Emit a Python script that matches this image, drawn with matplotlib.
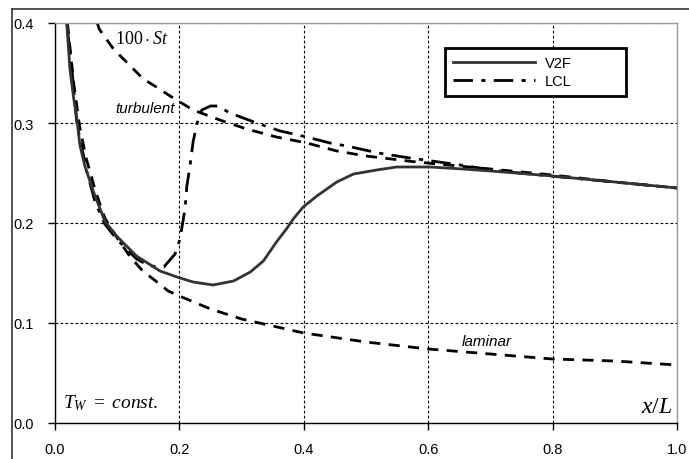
import matplotlib
matplotlib.use("Agg")
import matplotlib.pyplot as plt
from matplotlib.lines import Line2D

plt.rcParams['font.family'] = 'Liberation Sans'
plt.rcParams['mathtext.fontset'] = 'custom'
plt.rcParams['mathtext.rm'] = 'Liberation Serif'
plt.rcParams['mathtext.it'] = 'Liberation Serif:italic'

# V2F Stanton number (x100)
x_v2f = [0.019, 0.024, 0.030, 0.035, 0.040, 0.048, 0.062, 0.080, 0.099, 0.131, 0.169,
         0.196, 0.222, 0.254, 0.287, 0.314, 0.335, 0.356, 0.372, 0.383, 0.399, 0.421,
         0.453, 0.480, 0.517, 0.549, 0.603, 0.656, 0.700, 0.800, 0.900, 1.000]
y_v2f = [0.399, 0.354, 0.325, 0.305, 0.278, 0.257, 0.231, 0.202, 0.187, 0.167, 0.152,
         0.146, 0.141, 0.138, 0.142, 0.151, 0.162, 0.181, 0.194, 0.204, 0.216, 0.227,
         0.241, 0.249, 0.253, 0.256, 0.256, 0.254, 0.252, 0.247, 0.241, 0.235]

# LCL
x_lcl = [0.019, 0.027, 0.035, 0.051, 0.064, 0.080, 0.099, 0.131, 0.153, 0.175, 0.193,
         0.201, 0.209, 0.212, 0.217, 0.222, 0.228, 0.236, 0.250, 0.262, 0.281, 0.320,
         0.362, 0.405, 0.442, 0.469, 0.520, 0.560, 0.640, 0.715, 0.796, 0.900, 1.000]
y_lcl = [0.400, 0.355, 0.300, 0.252, 0.222, 0.199, 0.184, 0.164, 0.157, 0.156, 0.169,
         0.184, 0.214, 0.237, 0.257, 0.281, 0.299, 0.313, 0.317, 0.317, 0.310, 0.301,
         0.292, 0.286, 0.280, 0.277, 0.270, 0.266, 0.259, 0.252, 0.247, 0.241, 0.235]

# correlations
x_turb = [0.068, 0.071, 0.094, 0.142, 0.163, 0.185, 0.222, 0.265, 0.308, 0.356, 0.405,
          0.453, 0.500, 0.581, 0.700, 0.800, 0.900, 1.000]
y_turb = [0.400, 0.394, 0.374, 0.344, 0.336, 0.327, 0.313, 0.303, 0.294, 0.286, 0.280,
          0.272, 0.267, 0.261, 0.254, 0.248, 0.241, 0.235]

x_lam = [0.020, 0.030, 0.040, 0.050, 0.065, 0.080, 0.100, 0.120, 0.141, 0.164, 0.182,
         0.200, 0.250, 0.300, 0.350, 0.400, 0.500, 0.600, 0.700, 0.800, 0.900, 1.000]
y_lam = [0.400, 0.340, 0.295, 0.265, 0.232, 0.205, 0.185, 0.167, 0.152, 0.141, 0.132,
         0.127, 0.114, 0.104, 0.097, 0.090, 0.081, 0.074, 0.069, 0.064, 0.062, 0.058]

xticks = [0.0, 0.2, 0.4, 0.6, 0.8, 1.0]
yticks = [0.0, 0.1, 0.2, 0.3, 0.4]

fig = plt.figure(figsize=(6.89, 4.60), dpi=100)
ax = fig.add_axes([55/689, 36/460, 622/689, 400/460])

ax.plot(x_lam, y_lam, color='black', lw=2, dashes=(4, 3))
ax.plot(x_turb, y_turb, color='black', lw=2, dashes=(4, 3))
ax.plot(x_lcl, y_lcl, color='black', lw=2, dashes=(7, 3, 1.5, 3), label='LCL')
ax.plot(x_v2f, y_v2f, color='#333333', lw=2, label='V2F')

ax.set_xlim(0, 1)
ax.set_ylim(0, 0.4)
ax.set_xticks(xticks)
ax.set_yticks(yticks)
ax.set_xticklabels([f'{v:.1f}' for v in xticks], fontsize=10.5)
ax.set_yticklabels([f'{v:.1f}' for v in yticks], fontsize=10.5)
ax.tick_params(axis='y', direction='out', length=5, width=1, pad=10)
ax.tick_params(axis='x', direction='out', length=5, width=1, pad=9)

for s in ['left', 'bottom']:
    ax.spines[s].set_color('black')
    ax.spines[s].set_linewidth(1)
for s in ['top', 'right']:
    ax.spines[s].set_color('#999999')
    ax.spines[s].set_linewidth(1)

ax.grid(True, color='black', lw=0.8, dashes=(2.5, 2))

handles, labels = ax.get_legend_handles_labels()
leg = ax.legend(handles[::-1], labels[::-1], loc='upper left',
                bbox_to_anchor=(0.627, 0.8125, 0.291, 0.125), mode='expand',
                borderaxespad=0, fontsize=10.5, handlelength=5.6, fancybox=False,
                framealpha=1, borderpad=0.55, labelspacing=0.25, handletextpad=0.7)
leg.get_frame().set_edgecolor('black')
leg.get_frame().set_linewidth(2)

ax.text(0.096, 0.384, r'$\mathrm{100}\cdot St$', fontsize=13, va='center', ha='left')
ax.text(0.193, 0.315, 'turbulent', fontsize=11, style='italic', va='center', ha='right')
ax.text(0.654, 0.082, 'laminar', fontsize=11, style='italic', va='center', ha='left')
ax.text(0.013, 0.021, r'$T_W\ =\ const.$', fontsize=14, va='center', ha='left')
ax.text(0.992, 0.017, r'$x/L$', fontsize=17, va='center', ha='right')

# outer frame
fig.add_artist(Line2D([12/689, 12/689], [0, 450/460], color='#333333', lw=1.2,
                      transform=fig.transFigure))
fig.add_artist(Line2D([12/689, 1], [450/460, 450/460], color='#333333', lw=1.2,
                      transform=fig.transFigure))

fig.savefig('out.png', dpi=100)
